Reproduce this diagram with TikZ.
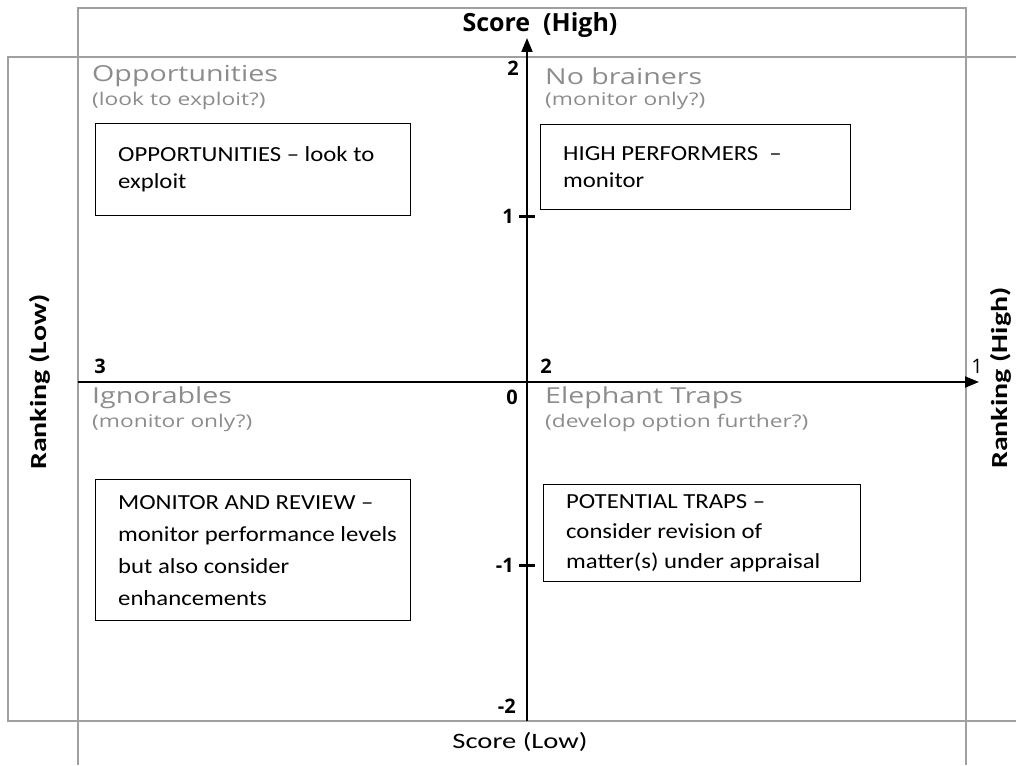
\documentclass[tikz,border=0pt]{standalone}
\usepackage{fontspec}
\setmainfont{Carlito}
\newfontfamily\headfont[FakeStretch=1.3]{Open Sans}
\newfontfamily\boldfont{Open Sans}
\newfontfamily\boxfont[FakeStretch=1.15]{Carlito}
\newfontfamily\widefont[FakeStretch=1.3]{Carlito}
\usetikzlibrary{arrows.meta,positioning}
\definecolor{framegray}{RGB}{160,160,160}
\definecolor{headgray}{RGB}{140,140,140}

\begin{document}
\begin{tikzpicture}[x=1pt,y=-1pt,
  frame/.style={draw=framegray, line width=1.6pt},
  axis/.style={line width=2pt, -{Triangle[length=14pt,width=11pt]}},
  quad/.style={anchor=west, inner sep=0pt, text=headgray, font=\headfont\fontsize{22}{24}\selectfont},
  quadsub/.style={anchor=west, inner sep=0pt, text=headgray, font=\headfont\fontsize{17.5}{20}\selectfont},
  advice/.style={draw, line width=1.4pt, anchor=north west},
  advicetext/.style={anchor=west, align=left, inner sep=0pt, font=\boxfont\fontsize{21.5}{#1}\selectfont},
  ticklbl/.style={inner sep=0pt, font=\boldfont\bfseries\fontsize{20}{20}\selectfont},
  axislbl/.style={inner sep=0pt, font=\widefont\bfseries\fontsize{23}{23}\selectfont}
]
  \useasboundingbox (0,0) rectangle (1016,765);
  % outer frames
  \draw[frame] (78,765) -- (78,8) -- (966,8) -- (966,765);
  \draw[frame] (1016,57) -- (8,57) -- (8,721) -- (1016,721);

  % axes
  \coordinate (ybot) at (527,721);
  \coordinate (ytop) at (527,38);
  \coordinate (xleft) at (78,382);
  \coordinate (xright) at (979,382);
  \draw[axis] (ybot) -- (ytop);
  \draw[axis] (xleft) -- (xright);
  \foreach \y/\l in {216/1, 565/-1} {
    \coordinate (tick\l) at (527,\y);
    \draw[line width=3pt] ([xshift=-8pt]tick\l) -- ([xshift=8pt]tick\l);
    \node[ticklbl, anchor=east] (lbl\l) at ([xshift=-13pt]tick\l) {\l};
  }
  \node[ticklbl, anchor=east] (lbltop) at (519,68) {2};
  \node[ticklbl, anchor=east] (lblzero) at (518,397) {0};
  \node[ticklbl, anchor=east] (lblbot) at (516,706) {-2};
  \node[ticklbl] (rank3) at (100,366) {3};
  \node[ticklbl] (rank2) at (546,366) {2};
  \node[inner sep=0pt, font=\boldfont\fontsize{20}{20}\selectfont] (rank1) at (977,366) {1};

  % axis titles
  \node[inner sep=0pt, font=\boldfont\bfseries\fontsize{25}{25}\selectfont] (scorehigh) at (540,25) {Score\ \ (High)};
  \node[inner sep=0pt, font=\widefont\fontsize{22}{22}\selectfont] (scorelow) at (520,742) {Score (Low)};
  \node[axislbl, rotate=90] (ranklow) at (40,382) {Ranking (Low)};
  \node[axislbl, rotate=90] (rankhigh) at (1001,378) {Ranking (High)};

  % quadrant headings
  \node[quad] (opp) at (92,76) {Opportunities};
  \node[quadsub] (oppsub) at (92,101) {(look to exploit?)};
  \node[quad] (nob) at (545,76) {No brainers};
  \node[quadsub] (nobsub) at (545,101) {(monitor only?)};
  \node[quad] (ign) at (92,398) {Ignorables};
  \node[quadsub] (ignsub) at (92,423) {(monitor only?)};
  \node[quad] (ele) at (545,398) {Elephant Traps};
  \node[quadsub] (elesub) at (545,423) {(develop option further?)};

  % advice boxes
  \node[advice, minimum width=315pt, minimum height=92pt] (oppbox) at (95,123) {};
  \node[advicetext=27] (opptext) at ([xshift=23pt]oppbox.west)
    {OPPORTUNITIES – look to\\exploit};
  \node[advice, minimum width=310pt, minimum height=85pt] (nobbox) at (540,124) {};
  \node[advicetext=27] (nobtext) at ([xshift=23pt]nobbox.west)
    {HIGH PERFORMERS\ \ –\\monitor};
  \node[advice, minimum width=315pt, minimum height=141pt] (ignbox) at (95,479) {};
  \node[advicetext=32] (igntext) at ([xshift=23pt]ignbox.west)
    {MONITOR AND REVIEW –\\monitor performance levels\\but also consider\\enhancements};
  \node[advice, minimum width=317pt, minimum height=97pt] (elebox) at (543,484) {};
  \node[advicetext=30] (eletext) at ([xshift=23pt]elebox.west)
    {POTENTIAL TRAPS –\\consider revision of\\matter(s) under appraisal};
\end{tikzpicture}
\end{document}
